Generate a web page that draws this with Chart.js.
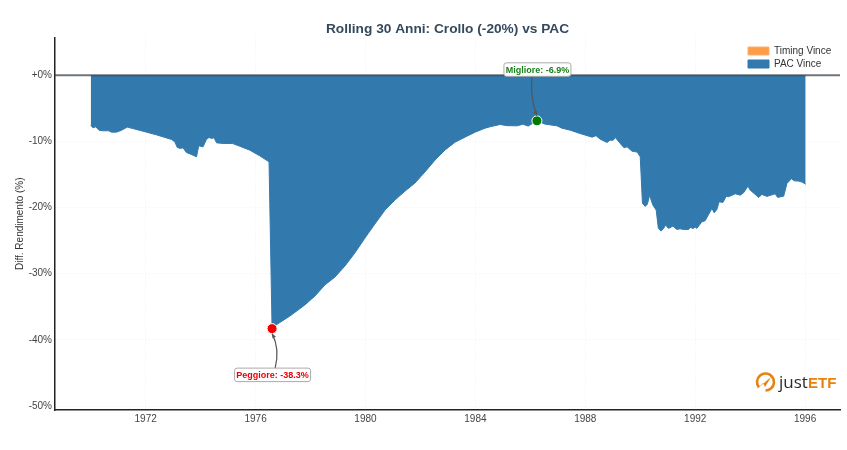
<!DOCTYPE html>
<html lang="it">
<head>
<meta charset="utf-8">
<title>Rolling 30 Anni</title>
<script src="https://cdn.jsdelivr.net/npm/chart.js@4"></script>
<style>
    html, body { margin: 0; padding: 0; background: #fff; }
    canvas { display: block; }
</style>
</head>
<body>
<canvas id="chart" width="847" height="450"></canvas>
<script>
// ─── Data ──────────────────────────────────────
const years = [
    1970.00, 1970.08, 1970.18, 1970.30, 1970.44, 1970.66, 1970.75, 1970.93, 1971.11, 1971.33,
    1971.90, 1972.39, 1972.94, 1973.06, 1973.15, 1973.26, 1973.36, 1973.48, 1973.66, 1973.85,
    1973.93, 1974.09, 1974.21, 1974.31, 1974.39, 1974.49, 1974.58, 1974.82, 1975.16, 1975.42,
    1975.79, 1976.15, 1976.49, 1976.60, 1976.74, 1977.25, 1977.79, 1978.16, 1978.52, 1978.89,
    1979.25, 1979.61, 1979.98, 1980.34, 1980.71, 1981.07, 1981.44, 1981.80, 1982.16, 1982.53,
    1982.89, 1983.26, 1983.62, 1983.99, 1984.35, 1984.53, 1984.90, 1985.15, 1985.52, 1985.73,
    1985.92, 1986.24, 1986.54, 1986.97, 1987.15, 1987.45, 1987.77, 1988.25, 1988.39, 1988.54,
    1988.79, 1988.90, 1989.02, 1989.09, 1989.27, 1989.41, 1989.52, 1989.70, 1989.89, 1990.00,
    1990.08, 1990.18, 1990.26, 1990.34, 1990.46, 1990.58, 1990.66, 1990.76, 1990.85, 1990.92,
    1991.03, 1991.19, 1991.33, 1991.45, 1991.57, 1991.76, 1991.82, 1991.92, 1992.00, 1992.06,
    1992.24, 1992.36, 1992.61, 1992.69, 1992.79, 1992.87, 1993.01, 1993.13, 1993.21, 1993.46,
    1993.64, 1993.76, 1993.92, 1994.00, 1994.31, 1994.43, 1994.61, 1994.91, 1995.00, 1995.22,
    1995.34, 1995.50, 1995.61, 1995.76, 1995.89, 1996.02
];
const pacDiff = [
    -7.55, -7.96, -7.81, -8.31, -8.41, -8.41, -8.61, -8.61, -8.35, -7.85,
    -8.46, -9.02, -9.71, -10.08, -10.92, -11.07, -10.98, -11.68, -11.98, -12.34,
    -10.68, -10.83, -9.71, -9.41, -9.56, -9.47, -10.23, -10.32, -10.32, -10.73,
    -11.33, -12.19, -13.10, -38.30, -37.76, -36.40, -34.74, -33.38, -31.72, -30.51,
    -28.85, -26.89, -24.62, -22.51, -20.39, -18.88, -17.52, -16.31, -14.65, -12.84,
    -11.33, -10.12, -9.37, -8.61, -8.01, -7.81, -7.45, -7.63, -7.66, -7.40,
    -7.70, -6.90, -7.40, -7.66, -8.01, -8.31, -8.76, -9.37, -9.14, -9.67,
    -10.17, -9.82, -9.82, -9.41, -10.32, -10.98, -10.83, -11.48, -11.63, -12.34,
    -19.38, -19.83, -19.49, -18.13, -19.64, -20.39, -23.16, -23.56, -23.16, -22.66,
    -23.16, -22.81, -23.31, -23.22, -23.31, -23.31, -23.01, -23.16, -22.96, -23.16,
    -22.16, -22.01, -20.14, -20.80, -20.29, -19.14, -19.23, -18.28, -18.38, -17.93,
    -18.13, -17.78, -16.77, -17.37, -18.47, -18.02, -18.32, -17.93, -18.47, -18.28,
    -16.36, -15.66, -15.97, -16.01, -16.16, -16.47
];
// Timing Vince never wins here, so it only shows up in the legend
const timingDiff = [];

const worstPoint = { x: 1976.60, y: -38.3 };
const bestPoint = { x: 1986.24, y: -6.9 };

const xTicks = [1972, 1976, 1980, 1984, 1988, 1992, 1996];
const yTicks = [-50, -40, -30, -20, -10, 0];

const FONT = '"Liberation Sans", Arial, sans-serif';
const ORANGE = '#e8820e';

// ─── Plugins ──────────────────────────────────────
// The legend sits in the top right corner of the plot
const legendPlacer = {
    id: 'legendPlacer',
    afterLayout(chart) {
        chart.legend.left = 745;
        chart.legend.top = 43;
    }
};

function drawCallout(ctx, text, color, box, from, ctrl, to) {
    // arrow first, the box covers its start
    ctx.strokeStyle = '#555';
    ctx.fillStyle = '#555';
    ctx.lineWidth = 1.2;
    ctx.beginPath();
    ctx.moveTo(from.x, from.y);
    ctx.quadraticCurveTo(ctrl.x, ctrl.y, to.x, to.y);
    ctx.stroke();

    const angle = Math.atan2(to.y - ctrl.y, to.x - ctrl.x);
    ctx.beginPath();
    ctx.moveTo(to.x, to.y);
    ctx.lineTo(to.x - 5 * Math.cos(angle - 0.4), to.y - 5 * Math.sin(angle - 0.4));
    ctx.lineTo(to.x - 5 * Math.cos(angle + 0.4), to.y - 5 * Math.sin(angle + 0.4));
    ctx.closePath();
    ctx.fill();

    ctx.lineWidth = 1;
    ctx.beginPath();
    ctx.roundRect(box.x, box.y, box.w, box.h, 2.5);
    ctx.fillStyle = '#fff';
    ctx.fill();
    ctx.strokeStyle = '#aaa';
    ctx.stroke();

    ctx.fillStyle = color;
    ctx.font = 'bold 9px ' + FONT;
    ctx.textAlign = 'center';
    ctx.textBaseline = 'middle';
    ctx.fillText(text, box.x + box.w / 2, box.y + box.h / 2 + 0.5);
}

function drawLogo(ctx) {
    ctx.strokeStyle = ORANGE;
    ctx.lineWidth = 2.6;
    ctx.beginPath();
    ctx.arc(765.5, 382, 8.5, 0.78 * Math.PI, 0.5 * Math.PI);
    ctx.stroke();

    ctx.fillStyle = ORANGE;
    ctx.beginPath();
    ctx.moveTo(757, 389);
    ctx.lineTo(771, 377);
    ctx.lineTo(765, 387);
    ctx.lineTo(763, 383);
    ctx.closePath();
    ctx.fill();

    ctx.textAlign = 'left';
    ctx.textBaseline = 'alphabetic';
    ctx.font = '17px "Open Sans", ' + FONT;
    ctx.fillStyle = '#2b2b2b';
    ctx.fillText('just', 779, 388);
    ctx.font = 'bold 15px "Liberation Sans", Arial, sans-serif';
    ctx.fillStyle = ORANGE;
    ctx.fillText('ETF', 808, 388);
}

const overlays = {
    id: 'overlays',
    afterDatasetsDraw(chart) {
        const { ctx, chartArea, scales: { x, y } } = chart;
        ctx.save();

        // zero line on top of the filled area
        ctx.strokeStyle = 'rgba(50, 60, 70, 0.7)';
        ctx.lineWidth = 2;
        ctx.beginPath();
        ctx.moveTo(chartArea.left, y.getPixelForValue(0));
        ctx.lineTo(chartArea.right, y.getPixelForValue(0));
        ctx.stroke();

        const wx = x.getPixelForValue(worstPoint.x);
        const wy = y.getPixelForValue(worstPoint.y);
        drawCallout(ctx, `Peggiore: ${worstPoint.y.toFixed(1)}%`, '#e8000b',
            { x: wx - 37.5, y: wy + 39.5, w: 76, h: 13.5 },
            { x: wx + 3, y: wy + 40 }, { x: wx + 8, y: wy + 20 }, { x: wx, y: wy + 5 });

        const bx = x.getPixelForValue(bestPoint.x);
        const by = y.getPixelForValue(bestPoint.y);
        drawCallout(ctx, `Migliore: ${bestPoint.y.toFixed(1)}%`, '#1a801a',
            { x: bx - 33, y: by - 58, w: 67, h: 13.5 },
            { x: bx - 5, y: by - 45 }, { x: bx - 7, y: by - 22 }, { x: bx, y: by - 5 });

        drawLogo(ctx);
        ctx.restore();
    }
};

// ─── Chart ──────────────────────────────────────
new Chart(document.getElementById('chart'), {
    type: 'line',
    data: {
        datasets: [
            {
                label: 'Timing Vince',
                data: timingDiff,
                backgroundColor: '#ff9c47',
                borderColor: '#ffb070',
                borderWidth: 1,
                pointRadius: 0,
                fill: 'origin',
                order: 2
            },
            {
                label: 'PAC Vince',
                data: pacDiff.map((v, i) => ({ x: years[i], y: v })),
                backgroundColor: '#3279ae',
                borderColor: '#3279ae',
                borderWidth: 1,
                pointRadius: 0,
                tension: 0,
                fill: 'origin',
                order: 1
            },
            {
                label: 'Peggiore',
                data: [worstPoint],
                showLine: false,
                pointRadius: 5,
                backgroundColor: '#f00000',
                borderColor: '#fff',
                borderWidth: 1,
                order: 0
            },
            {
                label: 'Migliore',
                data: [bestPoint],
                showLine: false,
                pointRadius: 5,
                backgroundColor: '#007a00',
                borderColor: '#fff',
                borderWidth: 1,
                order: 0
            }
        ]
    },
    options: {
        responsive: false,
        animation: false,
        layout: { padding: { left: 0, right: 7, top: 0, bottom: 0 } },
        plugins: {
            tooltip: { enabled: false },
            title: {
                display: true,
                text: 'Rolling 30 Anni: Crollo (-20%) vs PAC',
                fullSize: false,
                color: '#34495e',
                font: { family: FONT, size: 13.7, weight: 'bold' },
                padding: { top: 21, bottom: 0 }
            },
            legend: {
                position: 'chartArea',
                align: 'start',
                labels: {
                    boxWidth: 21,
                    boxHeight: 8,
                    padding: 3,
                    color: '#333',
                    font: { family: FONT, size: 10 },
                    filter: item => item.datasetIndex < 2,
                    sort: (a, b) => a.datasetIndex - b.datasetIndex
                }
            }
        },
        scales: {
            x: {
                type: 'linear',
                min: 1968.7,
                max: 1997.27,
                afterFit: scale => { scale.height = 40; },
                afterBuildTicks: scale => { scale.ticks = xTicks.map(v => ({ value: v })); },
                border: { display: true, color: '#222', width: 1.5, dash: [1, 2] },
                grid: { color: 'rgba(0,0,0,0.06)', drawTicks: false, lineWidth: 1 },
                ticks: {
                    color: '#444',
                    padding: 3,
                    maxRotation: 0,
                    font: { family: FONT, size: 10 },
                    callback: v => String(v)
                }
            },
            y: {
                type: 'linear',
                min: -50.6,
                max: 5.7,
                afterFit: scale => { scale.width = 55; },
                afterBuildTicks: scale => { scale.ticks = yTicks.map(v => ({ value: v })); },
                border: { display: true, color: '#222', width: 1.5, dash: [1, 2] },
                grid: { color: 'rgba(0,0,0,0.06)', drawTicks: false, lineWidth: 1 },
                title: {
                    display: true,
                    text: 'Diff. Rendimento (%)',
                    color: '#333',
                    font: { family: FONT, size: 10 },
                    padding: { top: 14, bottom: 0 }
                },
                ticks: {
                    color: '#444',
                    padding: 3,
                    font: { family: FONT, size: 10 },
                    callback: v => (v === 0 ? '+0%' : v + '%')
                }
            }
        }
    },
    plugins: [legendPlacer, overlays]
});
</script>
</body>
</html>
